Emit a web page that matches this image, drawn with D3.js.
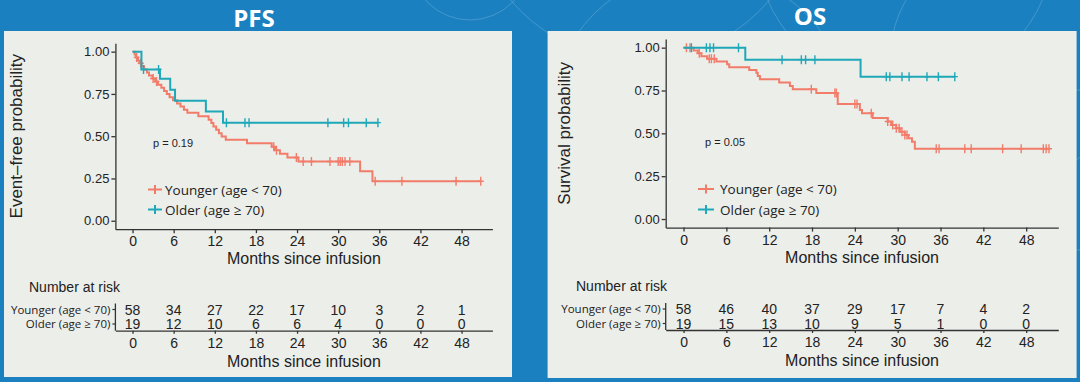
<!DOCTYPE html>
<html><head><meta charset="utf-8">
<script src="https://cdn.jsdelivr.net/npm/d3@7"></script>
<style>html,body{margin:0;padding:0;background:#1b80c0;} svg{display:block}</style>
</head><body><svg id="c" width="1080" height="382"></svg>
<script>
// ---------------- DATA ----------------
const monthTicks = [0, 6, 12, 18, 24, 30, 36, 42, 48];
const probTicks = [0, 0.25, 0.5, 0.75, 1];
const groupLabels = ["Younger (age < 70)", "Older (age \u2265 70)"];

// PFS – younger: [month, survival after event]
const pfsYoungerSteps = [[0,1],[0.3,0.983],[0.5,0.966],[0.8,0.948],[1.0,0.931],[1.3,0.913],[1.7,0.895],[2.1,0.877],[2.4,0.859],[2.9,0.841],[3.3,0.823],[3.7,0.805],[4.2,0.786],[4.6,0.768],[5.0,0.750],[5.4,0.731],[5.9,0.713],[6.5,0.694],[7.0,0.675],[7.5,0.656],[8.0,0.638],[9.6,0.618],[11.1,0.598],[11.5,0.578],[11.8,0.558],[12.2,0.538],[12.6,0.518],[13.0,0.498],[13.6,0.479],[16.7,0.459],[20.3,0.438],[20.8,0.417],[21.5,0.396],[22.6,0.374],[24.2,0.350],[33.2,0.292],[35.0,0.234]];
const pfsYoungerCensor = [0.6,1.2,3.0,3.5,20.6,21.0,23.9,24.9,26.1,28.8,30.0,30.3,30.6,31.0,31.7,35.4,39.3,47.2,50.8];
// PFS – older
const pfsOlderSteps = [[0,1],[1.3,0.895],[4.0,0.840],[5.5,0.775],[6.2,0.710],[10.7,0.646],[13.2,0.580]];
const pfsOlderCensor = [1.6,3.8,13.7,16.4,17.0,28.5,30.8,31.5,34.1,35.8];

// OS – younger
const osYoungerSteps = [[0,1],[1.4,0.983],[2.0,0.967],[2.5,0.950],[3.3,0.935],[4.6,0.920],[6.1,0.903],[6.4,0.886],[9.2,0.870],[10.2,0.853],[10.4,0.834],[10.7,0.815],[13.4,0.797],[14.9,0.777],[15.3,0.757],[18.6,0.735],[21.6,0.672],[24.7,0.636],[25.0,0.617],[26.5,0.590],[28.6,0.569],[29.1,0.549],[29.8,0.530],[30.3,0.510],[31.0,0.490],[31.5,0.471],[32.0,0.451],[32.4,0.410]];
const osYoungerCensor = [0.4,0.9,2.2,3.6,3.9,4.3,17.9,21.2,21.4,24.0,24.3,26.3,28.6,29.3,29.8,30.2,30.6,31.0,31.3,35.4,35.8,39.4,40.3,44.7,47.3,50.4,50.8,51.2];
// OS – older
const osOlderSteps = [[0,1],[8.65,0.930],[24.8,0.831]];
const osOlderCensor = [1.1,3.2,3.7,4.2,7.7,13.8,16.5,17.1,18.4,28.4,28.9,30.6,31.6,34.1,35.7,38.0];

// Number at risk
const pfsRiskYounger = [58, 34, 27, 22, 17, 10, 3, 2, 1];
const pfsRiskOlder   = [19, 12, 10, 6, 6, 4, 0, 0, 0];
const osRiskYounger  = [58, 46, 40, 37, 29, 17, 7, 4, 2];
const osRiskOlder    = [19, 15, 13, 10, 9, 5, 1, 0, 0];

const pValues = ["p = 0.19", "p = 0.05"];
const panelTitles = ["PFS", "OS"];
const yTitles = ["Event\u2013free probability", "Survival probability"];
const xTitle = "Months since infusion";

// ---------------- STYLE ----------------
const COL_Y = "#f27c6a", COL_O = "#1ea8b8";
const BLUE = "#1b80c0", PANEL = "#eceeea", INK = "#222";
const SANS = "'Liberation Sans', Arial, sans-serif";
const OPEN = "'Open Sans', 'Noto Sans', sans-serif";

const svg = d3.select("#c");
svg.append("rect").attr("width",1080).attr("height",382).attr("fill",BLUE);

// faint decorative arcs in the slide background
const deco = [[640,-110,170],[700,120,150],[905,-60,150],[1010,60,120],[1080,170,80],[470,-40,60]];
svg.append("g").selectAll("circle").data(deco).join("circle")
  .attr("cx",d=>d[0]).attr("cy",d=>d[1]).attr("r",d=>d[2])
  .attr("fill","none").attr("stroke","rgba(255,255,255,0.18)").attr("stroke-width",1);

function survAt(steps, t){
  const i = d3.bisector(d=>d[0]).right(steps, t) - 1;
  return steps[Math.max(0,i)][1];
}

function drawPanel(cfg){
  const g = svg.append("g");
  g.append("rect").attr("x",cfg.px).attr("y",cfg.py).attr("width",cfg.pw).attr("height",cfg.ph).attr("fill",PANEL);
  svg.append("text").attr("x",cfg.titleX).attr("y",cfg.titleY).attr("text-anchor","middle")
    .attr("font-family",OPEN).attr("font-weight","bold").attr("font-size",24).attr("fill","#fff").text(cfg.title);

  const x = d3.scaleLinear().domain([-2.5,52.5]).range([cfg.x0,cfg.x1]);
  const y = d3.scaleLinear().domain([-0.05,1.05]).range([cfg.yb,cfg.yt]);

  // y axis
  const ya = g.append("g").attr("transform",`translate(${cfg.x0},0)`)
    .call(d3.axisLeft(y).tickValues(probTicks).tickFormat(d3.format(".2f")).tickSize(4).tickPadding(2).tickSizeOuter(0));
  // x axis
  const xa = g.append("g").attr("transform",`translate(0,${cfg.yb})`)
    .call(d3.axisBottom(x).tickValues(monthTicks).tickSize(4).tickPadding(3).tickSizeOuter(0));
  [ya,xa].forEach(a=>{
    a.selectAll("path,line").attr("stroke","#333").attr("stroke-width",1.3);
    a.selectAll("text").attr("font-family",SANS).attr("fill",INK);
  });
  ya.selectAll("text").attr("font-size",13);
  xa.selectAll("text").attr("font-size",14);

  g.append("text").attr("transform",`translate(${cfg.ytX},${(cfg.yt+cfg.yb)/2}) rotate(-90)`)
    .attr("text-anchor","middle").attr("font-family",SANS).attr("font-size",cfg.ytSize).attr("fill",INK).text(cfg.yTitle);
  g.append("text").attr("x",(cfg.x0+cfg.x1)/2).attr("y",cfg.xtY).attr("text-anchor","middle")
    .attr("font-family",SANS).attr("font-size",16).attr("fill",INK).text(xTitle);

  // curves
  const line = d3.line().x(d=>x(d[0])).y(d=>y(d[1])).curve(d3.curveStepAfter);
  cfg.series.forEach(s=>{
    const end = Math.max(d3.max(s.censor), s.steps[s.steps.length-1][0]);
    const pts = s.steps.concat([[end, s.steps[s.steps.length-1][1]]]);
    g.append("path").attr("d",line(pts)).attr("fill","none").attr("stroke",s.color).attr("stroke-width",2);
    g.append("g").selectAll("path").data(s.censor).join("path")
      .attr("d",t=>{const cx=x(t), cy=y(survAt(s.steps,t)); return `M${cx},${cy-4.5}V${cy+4.5}M${cx-3},${cy}H${cx+3}`;})
      .attr("stroke",s.color).attr("stroke-width",1.4).attr("fill","none");
  });

  // p value
  g.append("text").attr("x",cfg.pX).attr("y",cfg.pY).attr("font-family",SANS).attr("font-size",11).attr("fill",INK).text(cfg.p);

  // legend
  cfg.series.forEach((s,i)=>{
    const ly = cfg.legY[i];
    const cx = (cfg.legX0+cfg.legX1)/2;
    g.append("path").attr("d",`M${cfg.legX0},${ly}H${cfg.legX1}M${cx},${ly-4.5}V${ly+4.5}`)
      .attr("stroke",s.color).attr("stroke-width",2).attr("fill","none");
    g.append("text").attr("x",cfg.legTx).attr("y",ly+5).attr("font-family",OPEN).attr("font-size",13.5)
      .attr("fill",INK).text(groupLabels[i]);
  });

  // risk table
  g.append("text").attr("x",cfg.nrX).attr("y",cfg.nrY).attr("font-family",SANS).attr("font-size",14).attr("fill",INK).text("Number at risk");
  const ra = g.append("g").attr("transform",`translate(0,${cfg.ry})`)
    .call(d3.axisBottom(x).tickValues(monthTicks).tickSize(3).tickPadding(4).tickSizeOuter(0));
  ra.selectAll("path,line").attr("stroke","#333").attr("stroke-width",1.3);
  ra.selectAll("text").attr("font-family",SANS).attr("font-size",14).attr("fill",INK);
  g.append("line").attr("x1",cfg.x0).attr("x2",cfg.x0).attr("y1",cfg.rowY[0]-6).attr("y2",cfg.ry).attr("stroke","#333").attr("stroke-width",1.3);
  cfg.risk.forEach((row,i)=>{
    const ry = cfg.rowY[i];
    g.append("line").attr("x1",cfg.x0-3).attr("x2",cfg.x0).attr("y1",ry).attr("y2",ry).attr("stroke","#333").attr("stroke-width",1.2);
    g.append("text").attr("x",cfg.x0-5).attr("y",ry+4).attr("text-anchor","end").attr("font-family",OPEN)
      .attr("font-size",11.5).attr("fill",INK).text(groupLabels[i]);
    g.append("g").selectAll("text").data(row).join("text")
      .attr("x",(d,j)=>x(monthTicks[j])).attr("y",ry+5).attr("text-anchor","middle")
      .attr("font-family",SANS).attr("font-size",14).attr("fill",INK).text(d=>d);
  });
  g.append("text").attr("x",(cfg.x0+cfg.x1)/2).attr("y",cfg.rtY).attr("text-anchor","middle")
    .attr("font-family",SANS).attr("font-size",16).attr("fill",INK).text(xTitle);
}

drawPanel({
  title: panelTitles[0], titleX: 254, titleY: 27,
  px: 4, py: 31, pw: 508, ph: 346,
  x0: 115.4, x1: 492.4, yt: 43.2, yb: 229.2,
  yTitle: yTitles[0], ytX: 22, ytSize: 17, xtY: 264,
  p: pValues[0], pX: 153, pY: 147,
  legX0: 148, legX1: 162, legTx: 165, legY: [189.5, 209.5],
  nrX: 29, nrY: 292, rowY: [309.5, 324], ry: 330.7, rtY: 366.5,
  risk: [pfsRiskYounger, pfsRiskOlder],
  series: [{steps: pfsYoungerSteps, censor: pfsYoungerCensor, color: COL_Y},
           {steps: pfsOlderSteps, censor: pfsOlderCensor, color: COL_O}]
});
drawPanel({
  title: panelTitles[1], titleX: 810, titleY: 25,
  px: 547.6, py: 31, pw: 529, ph: 347,
  x0: 665.7, x1: 1058.3, yt: 39.1, yb: 227.6,
  yTitle: yTitles[1], ytX: 570, ytSize: 17, xtY: 263,
  p: pValues[1], pX: 705, pY: 145.5,
  legX0: 698, legX1: 714, legTx: 720, legY: [189, 209.5],
  nrX: 576, nrY: 290.5, rowY: [309, 323.5], ry: 330, rtY: 366,
  risk: [osRiskYounger, osRiskOlder],
  series: [{steps: osYoungerSteps, censor: osYoungerCensor, color: COL_Y},
           {steps: osOlderSteps, censor: osOlderCensor, color: COL_O}]
});
</script></body></html>
